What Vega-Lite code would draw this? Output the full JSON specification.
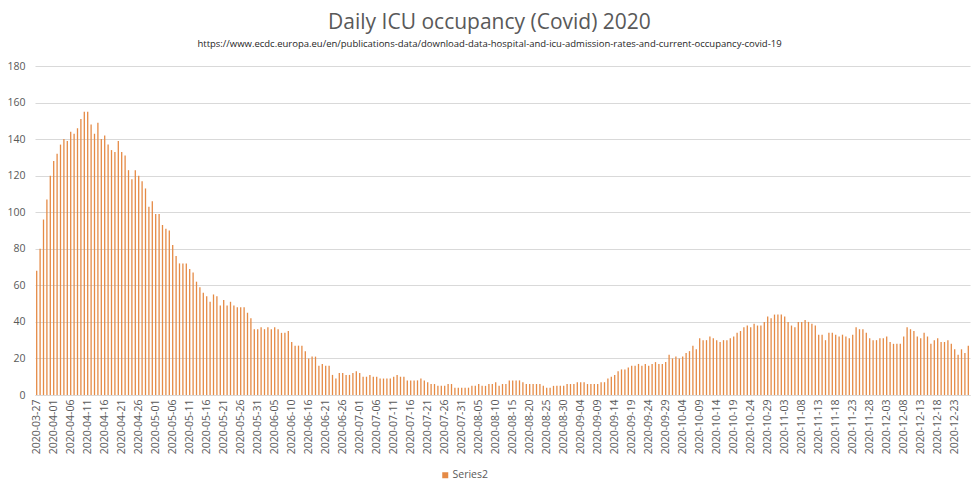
{
  "$schema": "https://vega.github.io/schema/vega-lite/v6.json",
  "autosize": {"type": "none"},
  "width": 935,
  "height": 329,
  "padding": {"top": 66, "left": 35, "right": 8, "bottom": 94},
  "background": "white",
  "title": {
    "text": "Daily ICU occupancy (Covid) 2020",
    "subtitle": "https://www.ecdc.europa.eu/en/publications-data/download-data-hospital-and-icu-admission-rates-and-current-occupancy-covid-19",
    "anchor": "middle",
    "frame": "group",
    "dx": -13,
    "offset": 13,
    "font": "Open Sans",
    "fontSize": 21,
    "fontWeight": "normal",
    "color": "#595959",
    "subtitleFont": "Open Sans",
    "subtitleFontSize": 9.5,
    "subtitleColor": "#262626",
    "subtitlePadding": 6
  },
  "config": {
    "view": {"stroke": null},
    "font": "Open Sans"
  },
  "data": {
    "values": [
      {"d": "2020-03-27", "v": 68}, {"d": "2020-03-28", "v": 80}, {"d": "2020-03-29", "v": 96}, {"d": "2020-03-30", "v": 107}, {"d": "2020-03-31", "v": 120},
      {"d": "2020-04-01", "v": 128}, {"d": "2020-04-02", "v": 132}, {"d": "2020-04-03", "v": 137}, {"d": "2020-04-04", "v": 140}, {"d": "2020-04-05", "v": 139},
      {"d": "2020-04-06", "v": 144}, {"d": "2020-04-07", "v": 143}, {"d": "2020-04-08", "v": 146}, {"d": "2020-04-09", "v": 151}, {"d": "2020-04-10", "v": 155},
      {"d": "2020-04-11", "v": 155}, {"d": "2020-04-12", "v": 148}, {"d": "2020-04-13", "v": 143}, {"d": "2020-04-14", "v": 149}, {"d": "2020-04-15", "v": 140},
      {"d": "2020-04-16", "v": 142}, {"d": "2020-04-17", "v": 137}, {"d": "2020-04-18", "v": 134}, {"d": "2020-04-19", "v": 133}, {"d": "2020-04-20", "v": 139},
      {"d": "2020-04-21", "v": 133}, {"d": "2020-04-22", "v": 131}, {"d": "2020-04-23", "v": 123}, {"d": "2020-04-24", "v": 118}, {"d": "2020-04-25", "v": 123},
      {"d": "2020-04-26", "v": 120}, {"d": "2020-04-27", "v": 117}, {"d": "2020-04-28", "v": 113}, {"d": "2020-04-29", "v": 103}, {"d": "2020-04-30", "v": 106},
      {"d": "2020-05-01", "v": 99}, {"d": "2020-05-02", "v": 99}, {"d": "2020-05-03", "v": 93}, {"d": "2020-05-04", "v": 91}, {"d": "2020-05-05", "v": 90},
      {"d": "2020-05-06", "v": 82}, {"d": "2020-05-07", "v": 76}, {"d": "2020-05-08", "v": 72}, {"d": "2020-05-09", "v": 72}, {"d": "2020-05-10", "v": 72},
      {"d": "2020-05-11", "v": 69}, {"d": "2020-05-12", "v": 67}, {"d": "2020-05-13", "v": 62}, {"d": "2020-05-14", "v": 59}, {"d": "2020-05-15", "v": 56},
      {"d": "2020-05-16", "v": 54}, {"d": "2020-05-17", "v": 51}, {"d": "2020-05-18", "v": 55}, {"d": "2020-05-19", "v": 54}, {"d": "2020-05-20", "v": 49},
      {"d": "2020-05-21", "v": 52}, {"d": "2020-05-22", "v": 49}, {"d": "2020-05-23", "v": 51}, {"d": "2020-05-24", "v": 49}, {"d": "2020-05-25", "v": 48},
      {"d": "2020-05-26", "v": 48}, {"d": "2020-05-27", "v": 48}, {"d": "2020-05-28", "v": 45}, {"d": "2020-05-29", "v": 42}, {"d": "2020-05-30", "v": 36},
      {"d": "2020-05-31", "v": 36}, {"d": "2020-06-01", "v": 37}, {"d": "2020-06-02", "v": 36}, {"d": "2020-06-03", "v": 37}, {"d": "2020-06-04", "v": 36},
      {"d": "2020-06-05", "v": 37}, {"d": "2020-06-06", "v": 36}, {"d": "2020-06-07", "v": 34}, {"d": "2020-06-08", "v": 34}, {"d": "2020-06-09", "v": 35},
      {"d": "2020-06-10", "v": 29}, {"d": "2020-06-11", "v": 27}, {"d": "2020-06-12", "v": 27}, {"d": "2020-06-13", "v": 27}, {"d": "2020-06-15", "v": 24},
      {"d": "2020-06-16", "v": 20}, {"d": "2020-06-17", "v": 21}, {"d": "2020-06-18", "v": 21}, {"d": "2020-06-19", "v": 16}, {"d": "2020-06-20", "v": 17},
      {"d": "2020-06-21", "v": 16}, {"d": "2020-06-22", "v": 16}, {"d": "2020-06-23", "v": 11}, {"d": "2020-06-24", "v": 9}, {"d": "2020-06-25", "v": 12},
      {"d": "2020-06-26", "v": 12}, {"d": "2020-06-27", "v": 11}, {"d": "2020-06-28", "v": 11}, {"d": "2020-06-29", "v": 12}, {"d": "2020-06-30", "v": 13},
      {"d": "2020-07-01", "v": 12}, {"d": "2020-07-02", "v": 10}, {"d": "2020-07-03", "v": 10}, {"d": "2020-07-04", "v": 11}, {"d": "2020-07-05", "v": 10},
      {"d": "2020-07-06", "v": 10}, {"d": "2020-07-07", "v": 9}, {"d": "2020-07-08", "v": 9}, {"d": "2020-07-09", "v": 9}, {"d": "2020-07-10", "v": 9},
      {"d": "2020-07-11", "v": 10}, {"d": "2020-07-12", "v": 11}, {"d": "2020-07-13", "v": 10}, {"d": "2020-07-14", "v": 10}, {"d": "2020-07-15", "v": 8},
      {"d": "2020-07-16", "v": 8}, {"d": "2020-07-17", "v": 8}, {"d": "2020-07-18", "v": 8}, {"d": "2020-07-19", "v": 9}, {"d": "2020-07-20", "v": 8},
      {"d": "2020-07-21", "v": 7}, {"d": "2020-07-22", "v": 6}, {"d": "2020-07-23", "v": 6}, {"d": "2020-07-24", "v": 5}, {"d": "2020-07-25", "v": 5},
      {"d": "2020-07-26", "v": 5}, {"d": "2020-07-27", "v": 6}, {"d": "2020-07-28", "v": 6}, {"d": "2020-07-29", "v": 4}, {"d": "2020-07-30", "v": 4},
      {"d": "2020-07-31", "v": 4}, {"d": "2020-08-01", "v": 4}, {"d": "2020-08-02", "v": 4}, {"d": "2020-08-03", "v": 5}, {"d": "2020-08-04", "v": 5},
      {"d": "2020-08-05", "v": 6}, {"d": "2020-08-06", "v": 5}, {"d": "2020-08-07", "v": 5}, {"d": "2020-08-08", "v": 6}, {"d": "2020-08-09", "v": 6},
      {"d": "2020-08-10", "v": 7}, {"d": "2020-08-11", "v": 5}, {"d": "2020-08-12", "v": 6}, {"d": "2020-08-13", "v": 6}, {"d": "2020-08-14", "v": 8},
      {"d": "2020-08-15", "v": 8}, {"d": "2020-08-16", "v": 8}, {"d": "2020-08-17", "v": 8}, {"d": "2020-08-18", "v": 7}, {"d": "2020-08-19", "v": 6},
      {"d": "2020-08-20", "v": 6}, {"d": "2020-08-21", "v": 6}, {"d": "2020-08-22", "v": 6}, {"d": "2020-08-23", "v": 6}, {"d": "2020-08-24", "v": 5},
      {"d": "2020-08-25", "v": 4}, {"d": "2020-08-26", "v": 4}, {"d": "2020-08-27", "v": 5}, {"d": "2020-08-28", "v": 5}, {"d": "2020-08-29", "v": 5},
      {"d": "2020-08-30", "v": 5}, {"d": "2020-08-31", "v": 6}, {"d": "2020-09-01", "v": 6}, {"d": "2020-09-02", "v": 6}, {"d": "2020-09-03", "v": 7},
      {"d": "2020-09-04", "v": 7}, {"d": "2020-09-05", "v": 7}, {"d": "2020-09-06", "v": 6}, {"d": "2020-09-07", "v": 6}, {"d": "2020-09-08", "v": 6},
      {"d": "2020-09-09", "v": 6}, {"d": "2020-09-10", "v": 7}, {"d": "2020-09-11", "v": 7}, {"d": "2020-09-12", "v": 9}, {"d": "2020-09-13", "v": 10},
      {"d": "2020-09-14", "v": 11}, {"d": "2020-09-15", "v": 13}, {"d": "2020-09-16", "v": 14}, {"d": "2020-09-17", "v": 14}, {"d": "2020-09-18", "v": 15},
      {"d": "2020-09-19", "v": 16}, {"d": "2020-09-20", "v": 16}, {"d": "2020-09-21", "v": 17}, {"d": "2020-09-22", "v": 16}, {"d": "2020-09-23", "v": 17},
      {"d": "2020-09-24", "v": 16}, {"d": "2020-09-25", "v": 17}, {"d": "2020-09-26", "v": 18}, {"d": "2020-09-27", "v": 17}, {"d": "2020-09-28", "v": 17},
      {"d": "2020-09-29", "v": 18}, {"d": "2020-09-30", "v": 22}, {"d": "2020-10-01", "v": 20}, {"d": "2020-10-02", "v": 21}, {"d": "2020-10-03", "v": 20},
      {"d": "2020-10-04", "v": 21}, {"d": "2020-10-05", "v": 23}, {"d": "2020-10-06", "v": 24}, {"d": "2020-10-07", "v": 27}, {"d": "2020-10-08", "v": 25},
      {"d": "2020-10-09", "v": 31}, {"d": "2020-10-10", "v": 30}, {"d": "2020-10-11", "v": 30}, {"d": "2020-10-12", "v": 32}, {"d": "2020-10-13", "v": 31},
      {"d": "2020-10-14", "v": 30}, {"d": "2020-10-15", "v": 29}, {"d": "2020-10-16", "v": 30}, {"d": "2020-10-17", "v": 30}, {"d": "2020-10-18", "v": 31},
      {"d": "2020-10-19", "v": 32}, {"d": "2020-10-20", "v": 34}, {"d": "2020-10-21", "v": 35}, {"d": "2020-10-22", "v": 37}, {"d": "2020-10-23", "v": 38},
      {"d": "2020-10-24", "v": 37}, {"d": "2020-10-25", "v": 39}, {"d": "2020-10-26", "v": 38}, {"d": "2020-10-27", "v": 38}, {"d": "2020-10-28", "v": 40},
      {"d": "2020-10-29", "v": 43}, {"d": "2020-10-30", "v": 42}, {"d": "2020-10-31", "v": 44}, {"d": "2020-11-01", "v": 44}, {"d": "2020-11-02", "v": 44},
      {"d": "2020-11-03", "v": 43}, {"d": "2020-11-04", "v": 40}, {"d": "2020-11-05", "v": 38}, {"d": "2020-11-06", "v": 37}, {"d": "2020-11-07", "v": 40},
      {"d": "2020-11-08", "v": 40}, {"d": "2020-11-09", "v": 41}, {"d": "2020-11-10", "v": 40}, {"d": "2020-11-11", "v": 39}, {"d": "2020-11-12", "v": 38},
      {"d": "2020-11-13", "v": 33}, {"d": "2020-11-14", "v": 33}, {"d": "2020-11-15", "v": 30}, {"d": "2020-11-16", "v": 34}, {"d": "2020-11-17", "v": 34},
      {"d": "2020-11-18", "v": 33}, {"d": "2020-11-19", "v": 32}, {"d": "2020-11-20", "v": 33}, {"d": "2020-11-21", "v": 32}, {"d": "2020-11-22", "v": 31},
      {"d": "2020-11-23", "v": 33}, {"d": "2020-11-24", "v": 37}, {"d": "2020-11-25", "v": 36}, {"d": "2020-11-26", "v": 36}, {"d": "2020-11-27", "v": 34},
      {"d": "2020-11-28", "v": 31}, {"d": "2020-11-29", "v": 30}, {"d": "2020-11-30", "v": 30}, {"d": "2020-12-01", "v": 31}, {"d": "2020-12-02", "v": 31},
      {"d": "2020-12-03", "v": 32}, {"d": "2020-12-04", "v": 29}, {"d": "2020-12-05", "v": 28}, {"d": "2020-12-06", "v": 28}, {"d": "2020-12-07", "v": 28},
      {"d": "2020-12-08", "v": 32}, {"d": "2020-12-09", "v": 37}, {"d": "2020-12-10", "v": 36}, {"d": "2020-12-11", "v": 35}, {"d": "2020-12-12", "v": 32},
      {"d": "2020-12-13", "v": 31}, {"d": "2020-12-14", "v": 34}, {"d": "2020-12-15", "v": 32}, {"d": "2020-12-16", "v": 28}, {"d": "2020-12-17", "v": 30},
      {"d": "2020-12-18", "v": 31}, {"d": "2020-12-19", "v": 29}, {"d": "2020-12-20", "v": 29}, {"d": "2020-12-21", "v": 30}, {"d": "2020-12-22", "v": 28},
      {"d": "2020-12-23", "v": 25}, {"d": "2020-12-24", "v": 22}, {"d": "2020-12-25", "v": 25}, {"d": "2020-12-26", "v": 23}, {"d": "2020-12-27", "v": 27}
    ]
  },
  "mark": {"type": "bar", "width": 1.3},
  "encoding": {
    "x": {
      "field": "d",
      "type": "ordinal",
      "sort": null,
      "title": null,
      "scale": {"paddingInner": 0, "paddingOuter": 0},
      "axis": {
        "values": ["2020-03-27", "2020-04-01", "2020-04-06", "2020-04-11", "2020-04-16", "2020-04-21", "2020-04-26", "2020-05-01", "2020-05-06", "2020-05-11", "2020-05-16", "2020-05-21", "2020-05-26", "2020-05-31", "2020-06-05", "2020-06-10", "2020-06-16", "2020-06-21", "2020-06-26", "2020-07-01", "2020-07-06", "2020-07-11", "2020-07-16", "2020-07-21", "2020-07-26", "2020-07-31", "2020-08-05", "2020-08-10", "2020-08-15", "2020-08-20", "2020-08-25", "2020-08-30", "2020-09-04", "2020-09-09", "2020-09-14", "2020-09-19", "2020-09-24", "2020-09-29", "2020-10-04", "2020-10-09", "2020-10-14", "2020-10-19", "2020-10-24", "2020-10-29", "2020-11-03", "2020-11-08", "2020-11-13", "2020-11-18", "2020-11-23", "2020-11-28", "2020-12-03", "2020-12-08", "2020-12-13", "2020-12-18", "2020-12-23"],
        "labelAngle": -90,
        "labelFontSize": 10.5,
        "labelColor": "#595959",
        "labelPadding": 4,
        "ticks": false,
        "domainColor": "#D9D9D9",
        "grid": false
      }
    },
    "y": {
      "field": "v",
      "type": "quantitative",
      "title": null,
      "scale": {"domain": [0, 180], "nice": false},
      "axis": {
        "values": [0, 20, 40, 60, 80, 100, 120, 140, 160, 180],
        "labelFontSize": 10.5,
        "labelColor": "#595959",
        "labelPadding": 10,
        "ticks": false,
        "domain": false,
        "gridColor": "#D9D9D9"
      }
    },
    "color": {
      "datum": "Series2",
      "scale": {"range": ["#E58A45"]},
      "legend": {
        "title": null,
        "orient": "none",
        "legendX": 405,
        "legendY": 404,
        "symbolType": "square",
        "symbolSize": 36,
        "labelFontSize": 10.5,
        "labelColor": "#595959",
        "labelOffset": 2
      }
    }
  }
}
